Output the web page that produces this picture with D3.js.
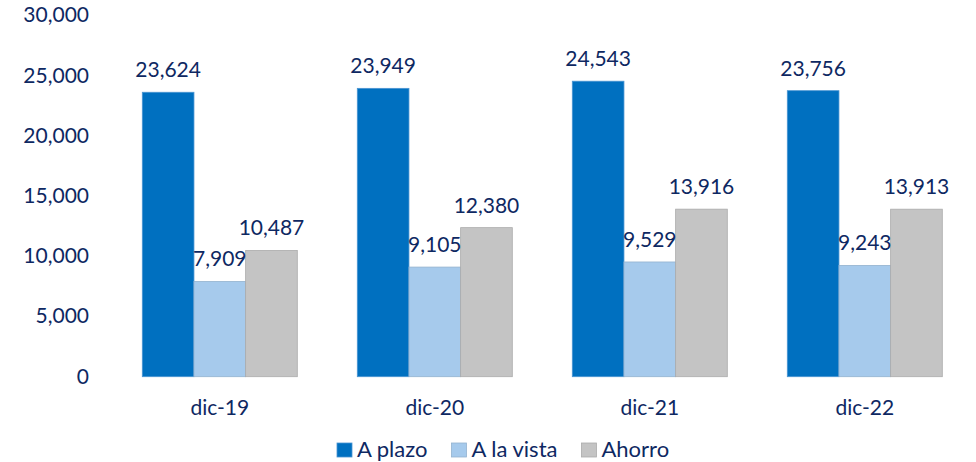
<!DOCTYPE html>
<html>
<head>
<meta charset="utf-8">
<script src="https://cdn.jsdelivr.net/npm/d3@7"></script>
<style>
  body { margin: 0; background: #fff; }
  text { font-family: Lato, "Open Sans", sans-serif; fill: #0E2862; }
</style>
</head>
<body>
<div id="chart"></div>
<script>
// Data
const periods = ["dic-19", "dic-20", "dic-21", "dic-22"];
const seriesNames = ["A plazo", "A la vista", "Ahorro"];
const aPlazo = [23624, 23949, 24543, 23756];
const aLaVista = [7909, 9105, 9529, 9243];
const ahorro = [10487, 12380, 13916, 13913];
const yTicks = [0, 5000, 10000, 15000, 20000, 25000, 30000];

const colors = ["#0070C0", "#A6CAEC", "#C4C4C4"];
const strokes = ["#4A95D2", "#93B2CF", "#ABABAB"];

const width = 976;
const height = 462;

const svg = d3.select("#chart")
  .append("svg")
  .attr("width", width)
  .attr("height", height);

// table built from the arrays
const rows = periods.map((p, i) => ({
  period: p,
  values: [aPlazo[i], aLaVista[i], ahorro[i]]
}));

// Scales
const x0 = d3.scaleBand()
  .domain(periods)
  .range([112.3, 972.3])
  .paddingInner(60 / 215)
  .paddingOuter(30 / 215);

const x1 = d3.scaleBand()
  .domain(seriesNames)
  .range([0, x0.bandwidth()])
  .padding(0);

const y = d3.scaleLinear()
  .domain([0, 30000])
  .range([376.7, 15.5]);

const fmt = d3.format(",");

// Y axis labels (no line, no ticks)
const yAxis = d3.axisLeft(y)
  .tickValues(yTicks)
  .tickFormat(fmt)
  .tickSize(0)
  .tickPadding(0);

const gy = svg.append("g")
  .attr("transform", "translate(89,0)")
  .call(yAxis);
gy.select(".domain").remove();
gy.selectAll("text")
  .attr("font-size", 21)
  .attr("font-family", null)
  .attr("dy", "0.3em");

// X axis labels
const xAxis = d3.axisBottom(x0).tickSize(0).tickPadding(0);
const gx = svg.append("g")
  .attr("transform", "translate(0,399)")
  .call(xAxis);
gx.select(".domain").remove();
gx.selectAll("text")
  .attr("font-size", 21)
  .attr("font-family", null)
  .attr("dy", "0.75em");

// Bars
const groups = svg.append("g")
  .selectAll("g")
  .data(rows)
  .join("g")
  .attr("transform", d => `translate(${x0(d.period)},0)`);

groups.selectAll("rect")
  .data(d => d.values.map((v, k) => ({ key: seriesNames[k], k: k, value: v })))
  .join("rect")
  .attr("x", d => x1(d.key))
  .attr("y", d => y(d.value))
  .attr("width", x1.bandwidth())
  .attr("height", d => y(0) - y(d.value))
  .attr("fill", d => colors[d.k])
  .attr("stroke", d => strokes[d.k])
  .attr("stroke-width", 0.8);

// Value labels
groups.selectAll("text.val")
  .data(d => d.values.map((v, k) => ({ key: seriesNames[k], k: k, value: v })))
  .join("text")
  .attr("class", "val")
  .attr("x", d => x1(d.key) + x1.bandwidth() / 2)
  .attr("y", d => y(d.value) - 15)
  .attr("text-anchor", "middle")
  .attr("font-size", 21)
  .text(d => fmt(d.value));

// Legend
const legend = svg.append("g");
let lx = 337;
seriesNames.forEach((name, k) => {
  legend.append("rect")
    .attr("x", lx)
    .attr("y", 443)
    .attr("width", 15)
    .attr("height", 14)
    .attr("fill", colors[k])
    .attr("stroke", strokes[k])
    .attr("stroke-width", 0.8);
  const t = legend.append("text")
    .attr("x", lx + 20)
    .attr("y", 457)
    .attr("font-size", 22)
    .text(name);
  lx += 20 + t.node().getComputedTextLength() + 24;
});
</script>
</body>
</html>
